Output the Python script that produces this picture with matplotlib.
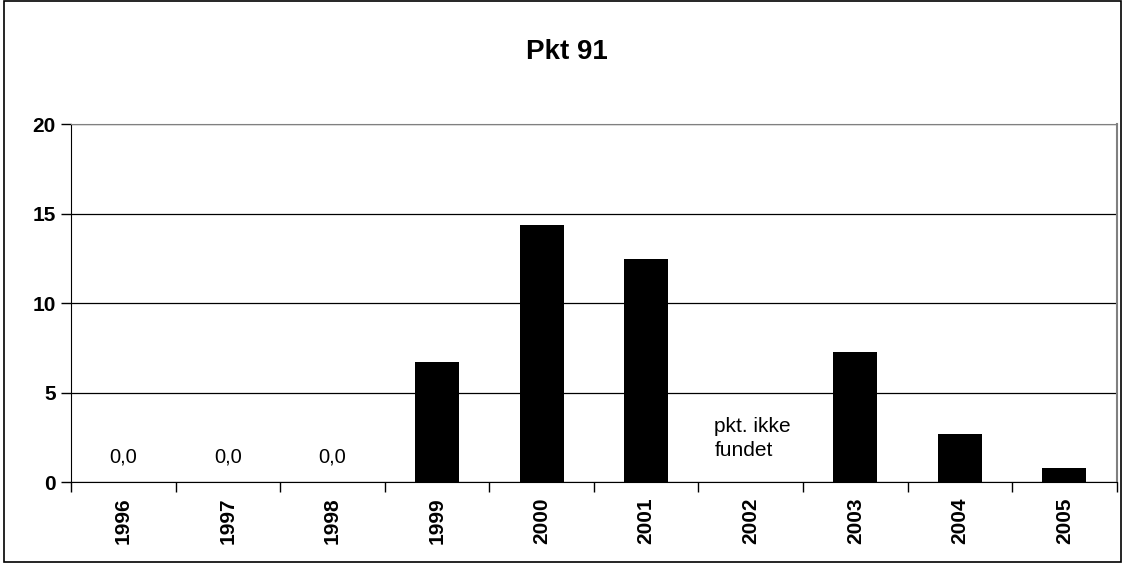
import matplotlib
matplotlib.use('agg')

import numpy as np
import matplotlib.pyplot as plt
from matplotlib.patches import Rectangle

plt.rcParams['font.family'] = ['Liberation Sans', 'DejaVu Sans']

years = ['1996', '1997', '1998', '1999', '2000', '2001', '2002', '2003', '2004', '2005']
values = [0.0, 0.0, 0.0, 6.7, 14.4, 12.5, np.nan, 7.3, 2.7, 0.8]
zero_label = '0,0'
missing_label = 'pkt. ikke\nfundet'
title = 'Pkt 91'
yticks = [0, 5, 10, 15, 20]

fig = plt.figure(figsize=(11.23, 5.63), dpi=100)
ax = fig.add_axes([0.0632, 0.1433, 0.9312, 0.6359])

x = np.arange(len(years))
ax.bar(x, np.nan_to_num(values), width=0.42, color='black', zorder=3)

for xi, v in zip(x, values):
    if np.isnan(v):
        ax.text(xi + 0.02, 2.45, missing_label, ha='center', va='center',
                fontsize=15, linespacing=1.28, multialignment='left')
    elif v == 0:
        ax.text(xi, 1.4, zero_label, ha='center', va='center', fontsize=14.5)

ax.set_xlim(-0.5, len(years) - 0.5)
ax.set_ylim(0, 20)
ax.set_yticks(yticks)
ax.set_yticklabels([str(t) for t in yticks], fontweight='bold', fontsize=15)
ax.yaxis.grid(True, color='black', linewidth=0.9, zorder=0)
ax.set_axisbelow(True)

ax.set_xticks(x)
ax.set_xticklabels(years, rotation=90, fontweight='bold', fontsize=15)
ax.tick_params(axis='x', which='major', length=0, pad=11)
ax.set_xticks(np.arange(-0.5, len(years)), minor=True)
ax.tick_params(axis='x', which='minor', length=7, width=1, direction='out')
ax.tick_params(axis='y', length=7, width=1, direction='out', pad=4)

ax.spines['top'].set_color('#808080')
ax.spines['right'].set_color('#808080')
ax.spines['right'].set_linewidth(1.5)
ax.spines['left'].set_color('black')
ax.spines['bottom'].set_color('black')

fig.text(0.505, 0.907, title, ha='center', va='center', fontsize=20, fontweight='bold')

fig.patches.append(Rectangle((0.004, 0.002), 0.994, 0.996, transform=fig.transFigure,
                             fill=False, edgecolor='black', linewidth=1.2))

fig.savefig('out.png', dpi=100)
